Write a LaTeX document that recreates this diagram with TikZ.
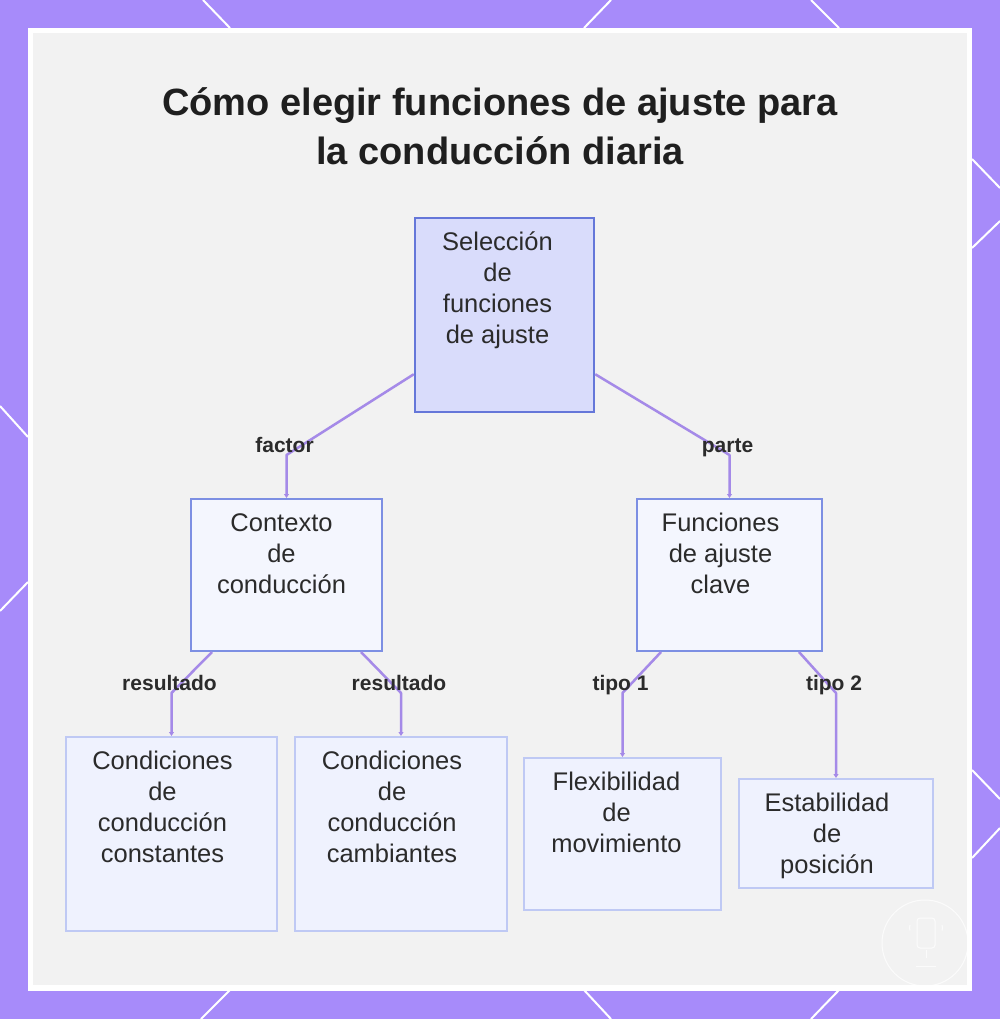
\documentclass[tikz,border=0pt]{standalone}
\usepackage{fontspec}
\setmainfont{Liberation Sans}
\usetikzlibrary{arrows.meta,calc}
\definecolor{bgpurple}{HTML}{A78BFA}
\definecolor{panelcol}{HTML}{F2F2F2}
\definecolor{rootfill}{HTML}{D9DCFB}
\definecolor{rootdraw}{HTML}{6577D9}
\definecolor{midfill}{HTML}{F4F6FE}
\definecolor{middraw}{HTML}{7D8FE3}
\definecolor{leaffill}{HTML}{EFF2FE}
\definecolor{leafdraw}{HTML}{BFC9F4}
\definecolor{conncol}{HTML}{A58AE8}
\definecolor{txtcol}{HTML}{2B2B2B}
\definecolor{titlecol}{HTML}{1F1F1F}
\begin{document}
\begin{tikzpicture}[x=1pt,y=-1pt,
  boxbase/.style={rectangle, inner sep=0pt, line width=2pt},
  rootbox/.style={boxbase, fill=rootfill, draw=rootdraw, line width=2.5pt},
  midbox/.style={boxbase, fill=midfill, draw=middraw},
  leafbox/.style={boxbase, fill=leaffill, draw=leafdraw},
  boxtext/.style={anchor=north, inner sep=0pt, align=center, text=txtcol,
    font=\fontsize{25.5}{31}\selectfont, execute at begin node=\rule{0pt}{19pt}, yshift=-15pt, xshift=-9pt},
  titletext/.style={anchor=north, inner sep=0pt, align=center, text=titlecol,
    font=\bfseries\fontsize{38}{49}\selectfont, execute at begin node=\rule{0pt}{30pt}},
  elabel/.style={anchor=base, inner sep=0pt, text=txtcol, font=\bfseries\fontsize{21}{25}\selectfont},
  conn/.style={draw=conncol, line width=2.5pt, line join=round, -{Triangle[length=4pt,width=5pt]}},
  deco/.style={draw=white, line width=2pt},
  wmark/.style={draw=white, line width=1pt, opacity=0.75}
]
\useasboundingbox (0,0) rectangle (1000,1019);
% background frame
\fill[bgpurple] (0,0) rectangle (1000,1019);
\draw[deco] (203,0) -- (230,28);
\draw[deco] (611,0) -- (584,28);
\draw[deco] (811,0) -- (839,28);
\draw[deco] (230,990) -- (201,1019);
\draw[deco] (584,990) -- (611,1019);
\draw[deco] (839,990) -- (811,1019);
\draw[deco] (0,406) -- (28,437);
\draw[deco] (28,582) -- (0,611);
\draw[deco] (972,159) -- (1000,188);
\draw[deco] (972,248) -- (1000,221);
\draw[deco] (972,770) -- (1000,799);
\draw[deco] (972,858) -- (1000,828);
\fill[white] (28,28) rectangle (972,991);
\fill[panelcol] (33,33) rectangle (967,985);
% watermark
\begin{scope}
\clip (33,33) rectangle (967,985);
\draw[wmark] (925,943) circle (43);
\draw[wmark, rounded corners=3pt] (917,918) rectangle (935,948);
\draw[wmark] (910,925) arc (200:160:8);
\draw[wmark] (942,925) arc (-20:20:8);
\draw[wmark] (926,950) -- (926,958);
\draw[wmark] (916,966) -- (936,966);
\end{scope}
% title
\node[titletext] (title) at (500,87) {Cómo elegir funciones de ajuste para\\la conducción diaria};
% boxes
\node[rootbox, minimum width=179pt, minimum height=194pt] (root) at (504.5,315) {};
\node[boxtext, xshift=2pt] (roottxt) at (root.north) {Selección\\de\\funciones\\de ajuste};
\node[midbox, minimum width=191pt, minimum height=152pt] (ctx) at (286.5,575) {};
\node[boxtext, xshift=4pt] (ctxtxt) at (ctx.north) {Contexto\\de\\conducción};
\node[midbox, minimum width=185pt, minimum height=152pt] (fun) at (729.5,575) {};
\node[boxtext] (funtxt) at (fun.north) {Funciones\\de ajuste\\clave};
\node[leafbox, minimum width=211pt, minimum height=194pt] (cond1) at (171.5,834) {};
\node[boxtext] (cond1txt) at (cond1.north) {Condiciones\\de\\conducción\\constantes};
\node[leafbox, minimum width=212pt, minimum height=194pt] (cond2) at (401,834) {};
\node[boxtext] (cond2txt) at (cond2.north) {Condiciones\\de\\conducción\\cambiantes};
\node[leafbox, minimum width=197pt, minimum height=152pt] (flex) at (622.5,834) {};
\node[boxtext, xshift=3pt] (flextxt) at (flex.north) {Flexibilidad\\de\\movimiento};
\node[leafbox, minimum width=194pt, minimum height=109pt] (estab) at (836,833.5) {};
\begin{scope}
\clip (estab.north west) rectangle ($(estab.south east)+(0,-11)$);
\node[boxtext] (estabtxt) at (estab.north) {Estabilidad\\de\\posición};
\end{scope}
% connectors
\coordinate (lev1) at (0,455);
\coordinate (lev2) at (0,693);
\draw[conn] ($(root.south west)+(0,-39)$) -- (ctx.north |- lev1) -- (ctx.north);
\draw[conn] ($(root.south east)+(0,-39)$) -- (fun.north |- lev1) -- (fun.north);
\draw[conn] ($(ctx.south west)+(22,0)$) -- (cond1.north |- lev2) -- (cond1.north);
\draw[conn] ($(ctx.south east)+(-22,0)$) -- (cond2.north |- lev2) -- (cond2.north);
\draw[conn] ($(fun.south west)+(25,0)$) -- (flex.north |- lev2) -- (flex.north);
\draw[conn] ($(fun.south east)+(-24,0)$) -- (estab.north |- lev2) -- (estab.north);
% labels
\node[elabel] (lfactor) at ($(ctx.north |- lev1)+(-2,-3)$) {factor};
\node[elabel] (lparte) at ($(fun.north |- lev1)+(-2,-3)$) {parte};
\node[elabel] (lres1) at ($(cond1.north |- lev2)+(-2,-3)$) {resultado};
\node[elabel] (lres2) at ($(cond2.north |- lev2)+(-2,-3)$) {resultado};
\node[elabel] (ltipo1) at ($(flex.north |- lev2)+(-2,-3)$) {tipo 1};
\node[elabel] (ltipo2) at ($(estab.north |- lev2)+(-2,-3)$) {tipo 2};
\end{tikzpicture}
\end{document}
